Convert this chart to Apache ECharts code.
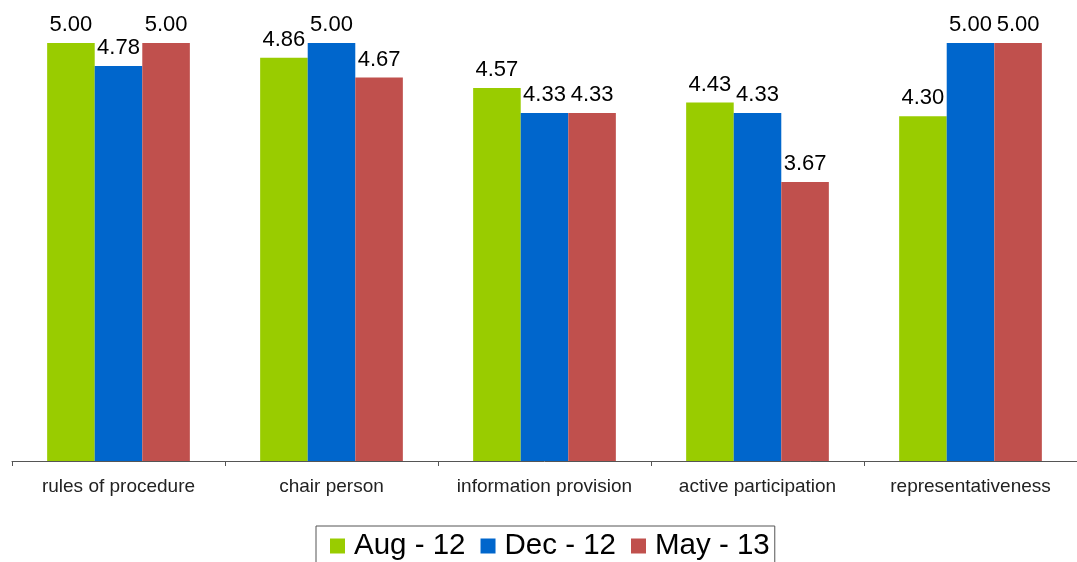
<!DOCTYPE html>
<html><head><meta charset="utf-8">
<script src="https://cdn.jsdelivr.net/npm/echarts@6/dist/echarts.min.js"></script>
<style>html,body{margin:0;padding:0;background:#fff}#c{width:1077px;height:562px}</style>
</head><body><div id="c"></div>
<script>
const categories = ['rules of procedure','chair person','information provision','active participation','representativeness'];
const aug12 = [5.00, 4.86, 4.57, 4.43, 4.30];
const dec12 = [4.78, 5.00, 4.33, 4.33, 5.00];
const may13 = [5.00, 4.67, 4.33, 3.67, 5.00];
const seriesNames = ['Aug - 12','Dec - 12','May - 13'];
const colors = ['#99CC00','#0066CC','#C0504D'];

const chart = echarts.init(document.getElementById('c'));
const font = 'Liberation Sans, Arial, sans-serif';
function s(name, data, color){
  return {name, type:'bar', data, barGap:'0%', barCategoryGap:'33%',
    itemStyle:{color},
    label:{show:true, position:'top', distance:7, formatter:p=>p.value.toFixed(2),
      fontFamily:font, fontSize:22, color:'#000'}};
}
chart.setOption({
  animation:false,
  textStyle:{fontFamily:font},
  grid:{left:12, top:43, width:1070, bottom:101},
  xAxis:{type:'category', data:categories,
    axisLine:{lineStyle:{color:'#555', width:1}},
    axisTick:{show:true, interval:0, length:5, lineStyle:{color:'#555'}},
    axisLabel:{interval:0, hideOverlap:false, fontFamily:font, fontSize:19, color:'#222', margin:16}},
  yAxis:{type:'value', min:1, max:5, show:false, splitLine:{show:false}},
  legend:{left:316, top:526, itemWidth:15, itemHeight:15, itemGap:15,
    borderColor:'#555', borderWidth:1, padding:[5,5,10,14],
    icon:'rect',
    textStyle:{fontFamily:font, fontSize:29.5, color:'#000', padding:[0,0,0,4]},
    data:seriesNames},
  series:[s(seriesNames[0], aug12, colors[0]), s(seriesNames[1], dec12, colors[1]), s(seriesNames[2], may13, colors[2])]
});
</script></body></html>
